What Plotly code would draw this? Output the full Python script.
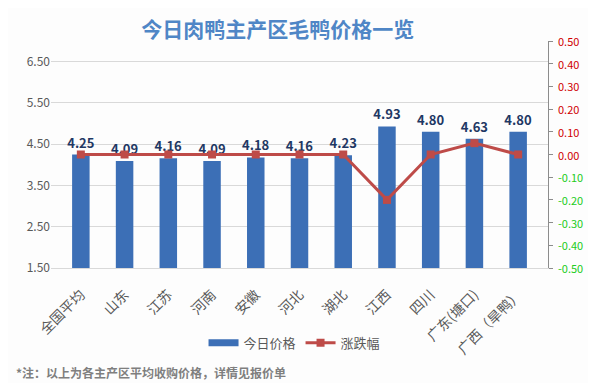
import plotly.graph_objects as go

categories = ["全国平均", "山东", "江苏", "河南", "安徽", "河北", "湖北", "江西", "四川", "广东(塘口)", "广西（旱鸭）"]
prices = [4.25, 4.09, 4.16, 4.09, 4.18, 4.16, 4.23, 4.93, 4.80, 4.63, 4.80]
changes = [0.00, 0.00, 0.00, 0.00, 0.00, 0.00, 0.00, -0.20, 0.00, 0.05, 0.00]
left_ticks = [1.5, 2.5, 3.5, 4.5, 5.5, 6.5]
right_ticks = [0.5, 0.4, 0.3, 0.2, 0.1, 0.0, -0.1, -0.2, -0.3, -0.4, -0.5]

font_family = "Noto Sans CJK SC, Microsoft YaHei, sans-serif"
bar_color = "#3c6fb6"

fig = go.Figure()
fig.add_trace(go.Bar(
    x=categories, y=prices, name="今日价格", showlegend=False,
    marker=dict(color=bar_color, line=dict(width=0)),
    width=0.4,
    text=[f"<b>{p:.2f}</b>" for p in prices], textposition="outside",
    textfont=dict(color="#1f3864", size=13, family=font_family),
    constraintext="none",
    cliponaxis=False,
))
# legend-only entry giving the wide rectangular swatch of the bar series
fig.add_trace(go.Scatter(
    x=[None], y=[None], name="今日价格", mode="lines",
    line=dict(color=bar_color, width=7),
))
fig.add_trace(go.Scatter(
    x=categories, y=changes, name="涨跌幅", yaxis="y2", mode="lines+markers",
    line=dict(color="#be4b48", width=3),
    marker=dict(symbol="square", size=8, color="#be4b48"),
))

fig.update_layout(
    width=580, height=375,
    paper_bgcolor="#fdfdfd", plot_bgcolor="#fdfdfd",
    margin=dict(l=43, r=40, t=33, b=115, autoexpand=False),
    font=dict(family=font_family, color="#595959", size=11),
    title=dict(text="<b>今日肉鸭主产区毛鸭价格一览</b>", x=0.465, xanchor="center",
               y=0.943, yanchor="middle",
               font=dict(size=21, color="#4f86c6", family=font_family)),
    xaxis=dict(tickangle=-45, showline=True, linecolor="#d9d9d9", linewidth=1,
               tickfont=dict(size=14, color="#595959"), ticks="", automargin=False,
               ticklabelstandoff=12),
    yaxis=dict(range=[1.5, 7.0], tickvals=left_ticks, ticktext=[f"{v:.2f}" for v in left_ticks],
               showgrid=True, gridcolor="#d9d9d9", zeroline=False, showline=False,
               tickfont=dict(size=12, color="#595959"), ticks="", ticklabelstandoff=0,
               automargin=False),
    yaxis2=dict(range=[-0.5, 0.5], overlaying="y", side="right",
                tickvals=right_ticks, showticklabels=False, automargin=False,
                showgrid=False, zeroline=False, showline=True, linecolor="#8c8c8c",
                linewidth=1, ticks="outside", ticklen=4, tickcolor="#8c8c8c"),
    legend=dict(orientation="h", x=0.49, xanchor="center", y=-0.33, yanchor="middle",
                font=dict(size=13, color="#595959"), bgcolor="rgba(0,0,0,0)",
                itemwidth=30, traceorder="normal"),
    showlegend=True,
)

for v in right_ticks:
    fig.add_annotation(
        text=f"{v:.2f}", xref="paper", yref="y2", x=1, y=v, xanchor="left", yanchor="middle",
        xshift=8, showarrow=False,
        font=dict(size=11, color="#d00000" if v >= 0 else "#22cc22", family=font_family),
    )

fig.add_annotation(
    text="<b>*注：以上为各主产区平均收购价格，详情见报价单</b>",
    xref="paper", yref="paper", x=-0.075, y=-0.46, xanchor="left", yanchor="middle",
    showarrow=False, font=dict(size=12, color="#7f7f7f", family=font_family),
)

fig.write_html("out.html")
